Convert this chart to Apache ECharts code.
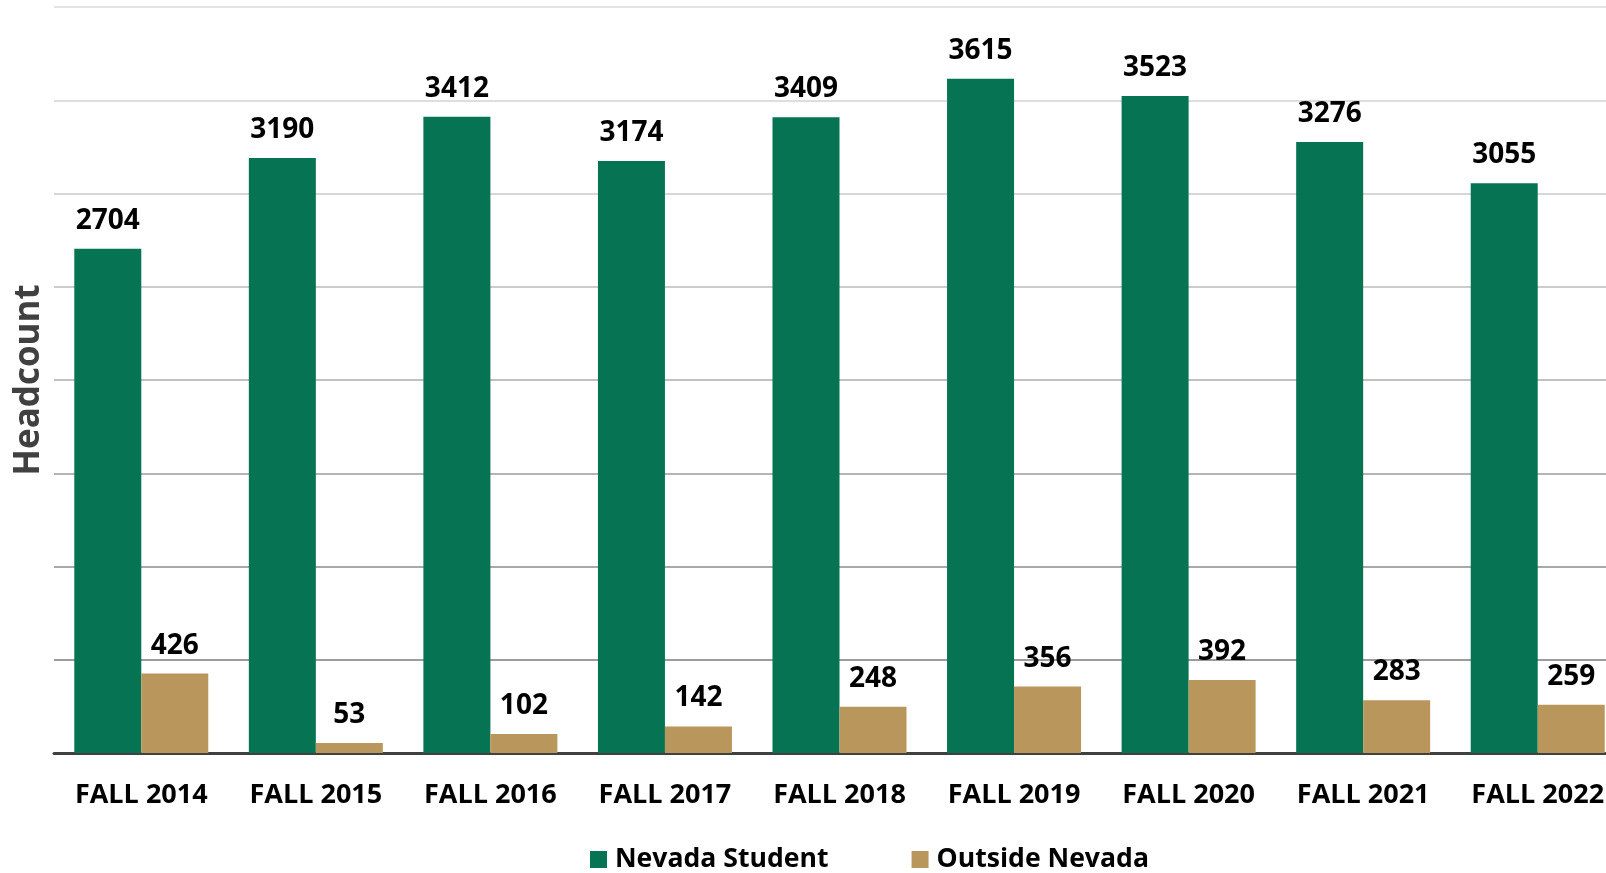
<!DOCTYPE html>
<html>
<head>
<meta charset="utf-8">
<script src="https://cdn.jsdelivr.net/npm/echarts@6/dist/echarts.min.js"></script>
<style>
  html, body { margin: 0; padding: 0; background: #fff; }
  #chart { width: 1606px; height: 873px; }
</style>
</head>
<body>
<div id="chart"></div>
<script>
const categories = ["FALL 2014", "FALL 2015", "FALL 2016", "FALL 2017", "FALL 2018",
  "FALL 2019", "FALL 2020", "FALL 2021", "FALL 2022"];
const nevadaStudent = [2704, 3190, 3412, 3174, 3409, 3615, 3523, 3276, 3055];
const outsideNevada = [426, 53, 102, 142, 248, 356, 392, 283, 259];

const FONT = "'Open Sans', sans-serif";
const GREEN = "#067352";
const TAN = "#b9965b";
// gridlines fade from darker at the bottom to lighter at the top
const gridColors = ["#999999", "#9c9c9c", "#a8a8a8", "#b4b4b4", "#c0c0c0",
  "#cccccc", "#d6d6d6", "#dedede", "#e4e4e4"];

const labelStyle = {
  show: true,
  position: "top",
  distance: 14,
  color: "#000",
  fontFamily: FONT,
  fontWeight: "bold",
  fontSize: 28
};

const chart = echarts.init(document.getElementById("chart"));
chart.setOption({
  backgroundColor: "#fff",
  animation: false,
  grid: {
    left: 54,
    top: 7,
    width: 1571,
    height: 746,
    outerBoundsMode: "none"
  },
  legend: {
    left: 585,
    top: 841,
    itemWidth: 17,
    itemHeight: 17,
    itemGap: 83,
    icon: "rect",
    textStyle: {
      color: "#000",
      fontFamily: FONT,
      fontWeight: "bold",
      fontSize: 26.6,
      padding: [0, 0, 0, 3]
    },
    data: ["Nevada Student", "Outside Nevada"]
  },
  xAxis: {
    type: "category",
    data: categories,
    axisTick: { show: false },
    axisLine: { lineStyle: { color: "#404040", width: 3 } },
    axisLabel: {
      color: "#000",
      fontFamily: FONT,
      fontWeight: "bold",
      fontSize: 27,
      margin: 29
    }
  },
  yAxis: {
    type: "value",
    min: 0,
    max: 4000,
    interval: 500,
    name: "Headcount",
    nameLocation: "middle",
    nameRotate: 90,
    nameGap: 7,
    nameTextStyle: {
      color: "#404040",
      fontFamily: FONT,
      fontWeight: "bold",
      fontSize: 35
    },
    axisLabel: { show: false },
    axisTick: { show: false },
    axisLine: { show: false },
    splitLine: { lineStyle: { color: gridColors, width: 2 } }
  },
  series: [
    {
      name: "Nevada Student",
      type: "bar",
      data: nevadaStudent,
      barWidth: 67,
      barGap: "0%",
      itemStyle: { color: GREEN },
      label: labelStyle
    },
    {
      name: "Outside Nevada",
      type: "bar",
      data: outsideNevada,
      barWidth: 67,
      itemStyle: { color: TAN },
      label: labelStyle
    }
  ]
});
</script>
</body>
</html>
